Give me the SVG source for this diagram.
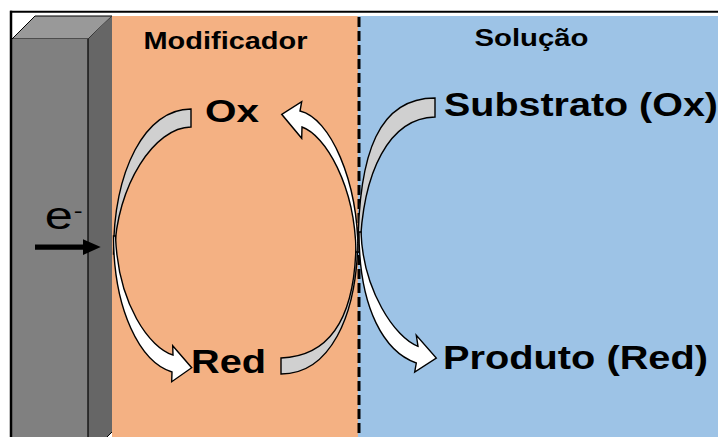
<svg xmlns="http://www.w3.org/2000/svg" width="718" height="437" viewBox="0 0 718 437">
  <style>
    .lbl { font-family: "Liberation Sans", Arial, sans-serif; font-weight: bold; fill: #000; }
    .reg { font-family: "Liberation Sans", Arial, sans-serif; fill: #000; }
    .arw { stroke: #000; stroke-width: 1.4; stroke-linejoin: miter; }
    .gray { fill: #D0D0D0; }
    .white { fill: #FFFFFF; }
  </style>

  <!-- background -->
  <rect x="0" y="0" width="718" height="437" fill="#FFFFFF"/>

  <!-- modifier layer (orange) -->
  <g id="modifier-layer">
    <rect x="112" y="16" width="247" height="421" fill="#F4B183"/>
    <text class="lbl" x="143.5" y="49" font-size="23.5" textLength="164" lengthAdjust="spacingAndGlyphs">Modificador</text>
  </g>

  <!-- solution (blue) -->
  <g id="solution">
    <rect x="358" y="16" width="360" height="421" fill="#9DC3E6"/>
    <text class="lbl" x="474.5" y="46" font-size="23" textLength="114" lengthAdjust="spacingAndGlyphs">Solução</text>
  </g>

  <!-- interface between modifier and solution -->
  <line x1="359" y1="17" x2="359" y2="437" stroke="#000" stroke-width="3" stroke-dasharray="10 4"/>

  <!-- electrode block drawn in perspective -->
  <g id="electrode">
    <polygon points="12,39 35,16 112,16 88,39" fill="#999999" stroke="#000" stroke-width="1"/>
    <rect x="12" y="39" width="76" height="398" fill="#808080"/>
    <polygon points="88,39 112,16 112,432 107,437 88,437" fill="#666666"/>
    <line x1="88" y1="39" x2="88" y2="437" stroke="#000" stroke-width="1.2"/>
    <line x1="107" y1="437" x2="112" y2="432" stroke="#000" stroke-width="1"/>
    <text class="reg" transform="translate(44.7,228.5) scale(1.33,1)" font-size="38">e<tspan x="21.9" y="-11" font-size="20">-</tspan></text>
    <path d="M35,244.5 L83,244.5 L83,239.3 L100.7,247 L83,255 L83,249.8 L35,249.8 Z" fill="#000"/>
  </g>

  <!-- outer frame -->
  <g id="frame" stroke="#000" fill="none">
    <line x1="10" y1="11.7" x2="718" y2="11.7" stroke-width="2"/>
    <line x1="11" y1="10.7" x2="11" y2="437" stroke-width="2.5"/>
  </g>

  <!-- species labels -->
  <g id="mediator-ox">
    <text class="lbl" x="205" y="121.7" font-size="32" textLength="54" lengthAdjust="spacingAndGlyphs">Ox</text>
  </g>
  <g id="mediator-red">
    <text class="lbl" x="191" y="373.3" font-size="32.5" textLength="75" lengthAdjust="spacingAndGlyphs">Red</text>
  </g>
  <g id="substrate">
    <text class="lbl" x="444" y="116" font-size="34" textLength="274" lengthAdjust="spacingAndGlyphs">Substrato (Ox)</text>
  </g>
  <g id="product">
    <text class="lbl" x="443" y="368.7" font-size="34" textLength="265" lengthAdjust="spacingAndGlyphs">Produto (Red)</text>
  </g>

  <!-- curved reaction arrows -->
  <g id="connectors">
    <!-- electrode side: Ox leaves towards the electrode -->
    <path class="arw gray" d="M113.5,254 C113.5,170 145,109 191,109 L191,127 C155,127 116,185 114.5,254 Z"/>
    <!-- electrode side: Red is formed -->
    <path class="arw white" d="M113.5,236 C113.5,310 140,362 172,372 L171.7,381.7 L191.7,367.7 L172.7,345.7 L173,355 C150,348 118,305 115.5,236 Z"/>
    <!-- interface: Red is consumed -->
    <path class="arw gray" d="M358,234 C358,320 328,374 281,374 L281,358 C335,356 357,310 356,234 Z"/>
    <!-- interface: Ox is regenerated -->
    <path class="arw white" d="M358,252 C358,180 330,118 300,111 L301.7,101.7 L281.7,114.3 L301.7,138.3 L302,127 C325,135 355,185 356,252 Z"/>
    <!-- solution: substrate consumed -->
    <path class="arw gray" d="M358,252 C358,150 380,98 435,98 L435,117 C390,118 362,170 360,252 Z"/>
    <!-- solution: product released -->
    <path class="arw white" d="M359,232 C359,310 385,352 416.3,363 L414.7,372 L436.3,358 L416.3,335.3 L418,346.3 C395,338 363,290 361,232 Z"/>
  </g>
</svg>
